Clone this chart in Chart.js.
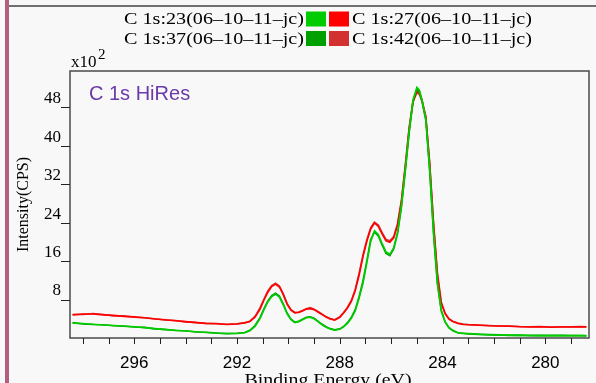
<!DOCTYPE html>
<html>
<head>
<meta charset="utf-8">
<script src="https://cdn.jsdelivr.net/npm/chart.js@4.4.1/dist/chart.umd.min.js"></script>
<style>
body { margin: 0; background: #f8f8f8; }
canvas { display: block; }
</style>
</head>
<body>
<canvas id="xps" width="596" height="383"></canvas>
<script>
// binding energy (eV)
var energy = [
	298.4, 298.0, 297.6, 297.2, 296.8, 296.4, 296.0, 295.6, 295.2, 294.8,
	294.4, 294.0, 293.6, 293.2, 292.8, 292.4, 292.0, 291.7, 291.5, 291.3,
	291.1, 290.95, 290.8, 290.65, 290.5, 290.35, 290.2, 290.05, 289.9, 289.75,
	289.6, 289.45, 289.3, 289.15, 289.0, 288.85, 288.7, 288.55, 288.4, 288.2,
	288.0, 287.85, 287.7, 287.55, 287.4, 287.25, 287.1, 286.95, 286.8, 286.65,
	286.5, 286.35, 286.2, 286.05, 285.9, 285.75, 285.6, 285.45, 285.3, 285.15,
	285.0, 284.9, 284.8, 284.65, 284.5, 284.35, 284.2, 284.05, 283.9, 283.75,
	283.6, 283.4, 283.2, 283.0, 282.6, 282.2, 281.8, 281.4, 281.0, 280.6,
	280.2, 279.8, 279.4, 279.0, 278.6, 278.4
];

// intensity in CPS x 10^2
var c1s23 = [
	3.1, 3.0, 2.85, 2.7, 2.6, 2.5, 2.35, 2.15, 1.95, 1.75,
	1.6, 1.45, 1.3, 1.15, 1.0, 0.95, 0.95, 1.1, 1.5, 2.4,
	4.1, 5.9, 7.5, 8.6, 9.1, 8.5, 6.9, 5.0, 3.8, 3.2,
	3.4, 3.8, 4.2, 4.3, 4.0, 3.4, 2.8, 2.3, 1.9, 1.6,
	1.8, 2.3, 3.0, 4.1, 5.6, 8.2, 11.3, 15.5, 20.0, 22.3,
	21.5, 19.6, 17.9, 17.4, 18.8, 22.0, 27.5, 35.0, 43.0, 49.5,
	52.1, 51.5, 49.5, 45.5, 35.0, 22.0, 11.5, 5.8, 3.4, 2.2,
	1.6, 1.05, 0.95, 0.9, 0.8, 0.65, 0.6, 0.6, 0.55, 0.55,
	0.5, 0.55, 0.5, 0.5, 0.5, 0.5
];
var c1s27 = [
	4.8, 5.0, 5.0, 4.8, 4.7, 4.5, 4.4, 4.2, 3.95, 3.8,
	3.6, 3.4, 3.2, 3.05, 2.95, 2.8, 2.9, 3.1, 3.4, 4.3,
	6.0, 7.9, 9.5, 10.7, 11.2, 10.6, 9.0, 7.0, 5.8, 5.2,
	5.3, 5.6, 6.0, 6.1, 5.9, 5.4, 4.9, 4.4, 4.0, 3.7,
	4.3, 5.2, 6.2, 7.6, 9.8, 13.0, 16.8, 20.0, 22.6, 23.9,
	23.2, 21.6, 20.2, 19.9, 20.8, 23.5, 28.3, 35.5, 43.5, 49.0,
	51.3, 51.0, 49.5, 46.0, 36.0, 23.5, 13.0, 7.2, 5.0, 3.9,
	3.4, 3.0, 2.8, 2.75, 2.65, 2.55, 2.5, 2.45, 2.35, 2.3,
	2.35, 2.25, 2.3, 2.3, 2.35, 2.3
];
var c1s37 = [
	3.2, 2.9, 2.8, 2.75, 2.55, 2.45, 2.3, 2.2, 1.9, 1.8,
	1.55, 1.5, 1.25, 1.2, 1.05, 0.9, 1.0, 1.15, 1.6, 2.6,
	4.3, 6.1, 7.7, 8.8, 9.3, 8.7, 7.1, 5.2, 3.9, 3.3,
	3.5, 3.9, 4.3, 4.4, 4.1, 3.5, 2.9, 2.4, 2.0, 1.7,
	1.9, 2.4, 3.2, 4.3, 5.9, 8.6, 11.8, 16.0, 20.4, 22.0,
	21.2, 19.3, 17.6, 17.1, 18.5, 21.7, 27.2, 34.7, 42.6, 49.2,
	51.7, 51.2, 49.2, 45.2, 34.6, 21.6, 11.2, 5.6, 3.3, 2.1,
	1.5, 1.1, 1.0, 0.85, 0.75, 0.7, 0.65, 0.55, 0.6, 0.5,
	0.55, 0.5, 0.55, 0.5, 0.5, 0.45
];
var c1s42 = [
	4.9, 4.9, 5.1, 4.9, 4.6, 4.6, 4.3, 4.2, 4.0, 3.75,
	3.65, 3.35, 3.25, 3.0, 3.0, 2.85, 2.95, 3.2, 3.5, 4.5,
	6.3, 8.1, 9.8, 10.9, 11.4, 10.8, 9.2, 7.2, 5.9, 5.3,
	5.4, 5.7, 6.1, 6.3, 6.0, 5.5, 5.0, 4.5, 4.1, 3.8,
	4.4, 5.3, 6.4, 7.8, 10.1, 13.4, 17.2, 20.4, 22.9, 24.1,
	23.5, 21.9, 20.5, 20.2, 21.1, 23.8, 28.7, 36.0, 43.8, 49.2,
	51.0, 50.6, 49.2, 45.8, 36.4, 24.0, 13.6, 7.5, 5.2, 4.0,
	3.5, 3.1, 2.9, 2.8, 2.7, 2.6, 2.5, 2.5, 2.4, 2.35,
	2.4, 2.3, 2.35, 2.35, 2.4, 2.35
];

var seriesLabels = ['C 1s:23(06\u201310\u201311\u2013jc)', 'C 1s:27(06\u201310\u201311\u2013jc)',
	'C 1s:37(06\u201310\u201311\u2013jc)', 'C 1s:42(06\u201310\u201311\u2013jc)'];
var seriesColors = ['#00cc00', '#ff0000', '#00a000', '#d33030'];

function points(vals) {
	return energy.map(function (e, i) { return { x: e, y: vals[i] }; });
}

// text squeezed/stretched to a given width
function fitText(c, txt, x, y, w, align) {
	var m = c.measureText(txt).width;
	c.save();
	c.translate(x, y);
	c.scale(w / m, 1);
	c.textAlign = align;
	c.fillText(txt, 0, 0);
	c.restore();
}

var frame = {
	id: 'frame',
	beforeDraw: function (chart) {
		var c = chart.ctx;
		c.save();
		c.fillStyle = '#f8f8f8';
		c.fillRect(0, 0, chart.width, chart.height);
		c.restore();
	},
	afterDraw: function (chart) {
		var c = chart.ctx, a = chart.chartArea;
		var xs = chart.scales.x, ys = chart.scales.y;
		c.save();

		// window edges
		c.fillStyle = '#b0607e';
		c.fillRect(5, 0, 4, chart.height);
		c.fillStyle = '#707070';
		c.fillRect(9, 5, chart.width - 9, 2);

		// plot frame
		c.strokeStyle = '#4a4a4a';
		c.lineWidth = 1.5;
		c.strokeRect(a.left, a.top, a.right - a.left, a.bottom - a.top);

		// tick marks
		c.strokeStyle = '#222';
		c.lineWidth = 1;
		c.beginPath();
		xs.ticks.forEach(function (t) {
			var px = Math.round(xs.getPixelForValue(t.value)) + 0.5;
			c.moveTo(px, a.bottom);
			c.lineTo(px, a.bottom + 6);
		});
		ys.ticks.forEach(function (t) {
			if (t.value <= 0) return;
			var py = Math.round(ys.getPixelForValue(t.value)) + 0.5;
			var len = t.value % 8 === 0 ? 9 : 3;
			c.moveTo(a.left - len, py);
			c.lineTo(a.left, py);
		});
		c.stroke();

		// legend, two rows
		c.font = '16px "Liberation Serif"';
		c.textBaseline = 'alphabetic';
		for (var r = 0; r < 2; r++) {
			var cy = 19 + r * 19.5;
			c.fillStyle = seriesColors[r * 2];
			c.fillRect(306, cy - 7.5, 20, 15);
			c.fillStyle = seriesColors[r * 2 + 1];
			c.fillRect(329, cy - 7.5, 20, 15);
			c.fillStyle = '#000';
			fitText(c, seriesLabels[r * 2], 304, cy + 5, 180, 'right');
			fitText(c, seriesLabels[r * 2 + 1], 352, cy + 5, 180, 'left');
		}

		// scale factor
		c.fillStyle = '#000';
		c.font = '17px "Liberation Serif"';
		c.textAlign = 'left';
		c.fillText('x10', 71, 67);
		c.font = '15px "Liberation Serif"';
		c.fillText('2', 98, 59);

		// spectrum title
		c.fillStyle = '#6a3aa8';
		c.font = '20px "Liberation Sans"';
		c.fillText('C 1s HiRes', 89, 100);

		// axis titles
		c.fillStyle = '#000';
		c.font = '17px "Liberation Serif"';
		fitText(c, 'Binding Energy (eV)', 328, 385, 167, 'center');
		c.save();
		c.translate(28, (a.top + a.bottom) / 2);
		c.rotate(-Math.PI / 2);
		c.font = '16px "Liberation Serif"';
		c.textAlign = 'center';
		c.fillText('Intensity(CPS)', 0, 0);
		c.restore();

		c.restore();
	}
};

var ctx = document.getElementById('xps').getContext('2d');

var order = [0, 2, 1, 3]; // greens drawn on top of reds
var spectra = [c1s23, c1s27, c1s37, c1s42];

var myChart = new Chart(ctx, {
	type: 'line',
	data: {
		datasets: order.map(function (k) {
			return {
				label: seriesLabels[k],
				data: points(spectra[k]),
				borderColor: seriesColors[k],
				borderWidth: 1.6,
				pointRadius: 0,
				tension: 0,
				fill: false
			};
		})
	},
	options: {
		responsive: false,
		animation: false,
		devicePixelRatio: 1,
		layout: { padding: { top: 71, right: 7, left: 0, bottom: 0 } },
		plugins: {
			legend: { display: false },
			title: { display: false },
			tooltip: { enabled: false }
		},
		scales: {
			x: {
				type: 'linear',
				reverse: true,
				min: 278.3,
				max: 298.5,
				grid: { display: false },
				border: { display: false },
				ticks: {
					stepSize: 1,
					autoSkip: false,
					includeBounds: false,
					maxRotation: 0,
					padding: 7,
					color: '#000',
					font: { family: 'Liberation Sans', size: 17 },
					callback: function (v) {
						var r = Math.round(v);
						return (Math.abs(v - r) < 1e-6 && r % 4 === 0) ? String(r) : '';
					}
				},
				afterFit: function (s) { s.height = 45; }
			},
			y: {
				min: 0,
				max: 55.5,
				grid: { display: false },
				border: { display: false },
				ticks: {
					stepSize: 4,
					includeBounds: false,
					align: 'end',
					padding: 1,
					color: '#000',
					font: { family: 'Liberation Serif', size: 17 },
					callback: function (v) {
						return (v > 0 && v % 8 === 0) ? String(v) : '';
					}
				},
				afterFit: function (s) { s.width = 70; }
			}
		}
	},
	plugins: [frame]
});
</script>
</body>
</html>
